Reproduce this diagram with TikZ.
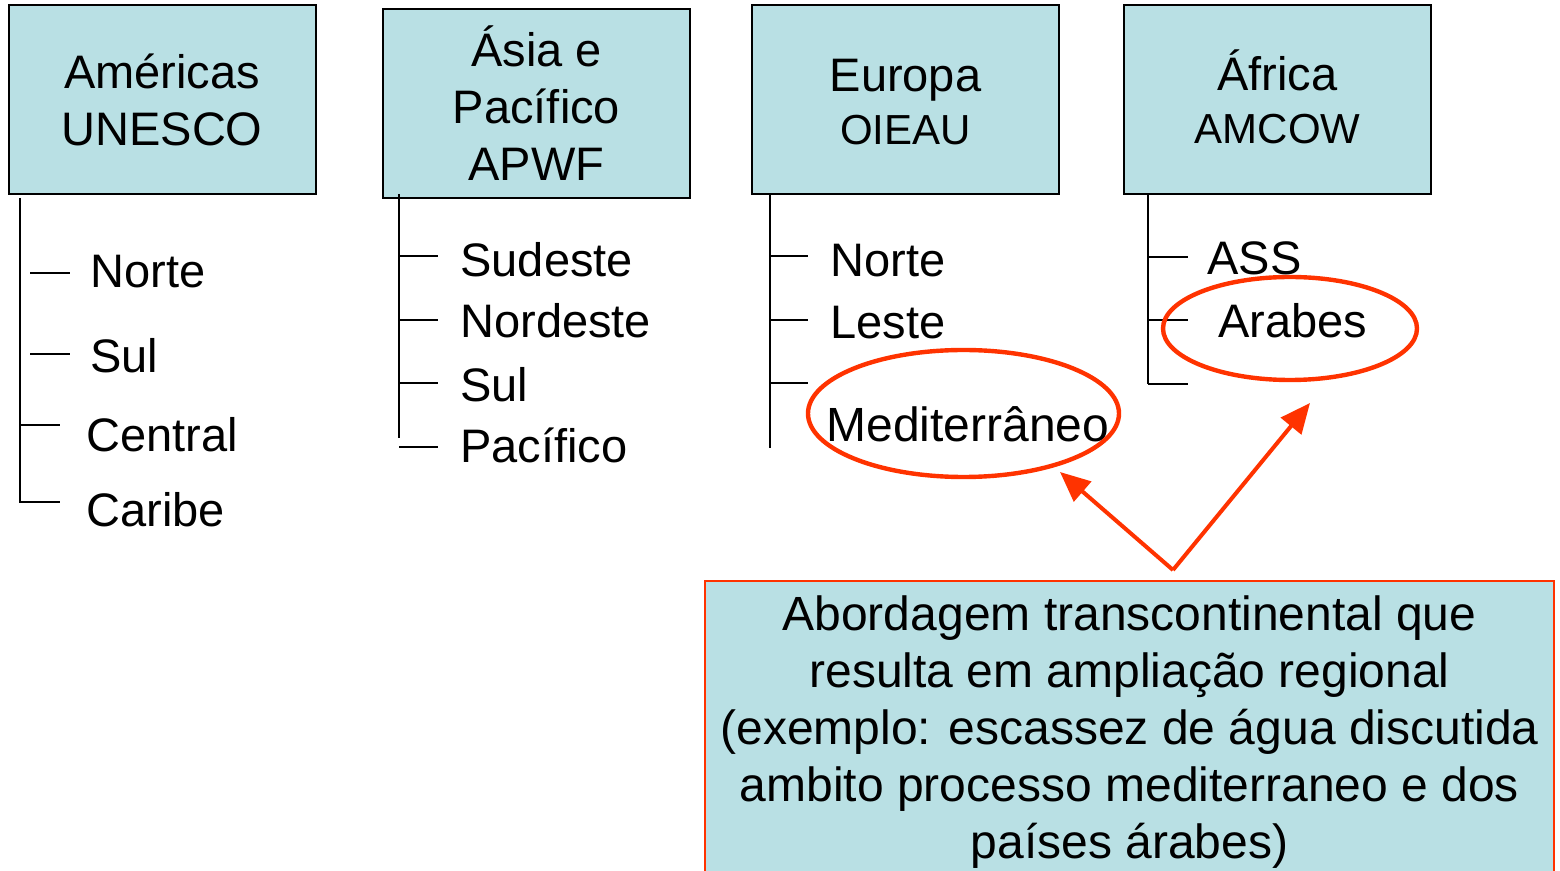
\documentclass[tikz,border=0pt]{standalone}
\usepackage{fontspec}
\setmainfont{Liberation Sans}
\usetikzlibrary{arrows.meta,shapes.geometric}
\definecolor{boxcyan}{RGB}{185,224,228}
\definecolor{markred}{RGB}{255,51,0}
\tikzset{
  region/.style={draw=black,line width=1pt,fill=boxcyan,minimum width=153.5pt,
    minimum height=94.5pt,align=center,inner sep=0pt,font=\fontsize{23.5}{28.5}\selectfont},
  sub/.style={anchor=base west,inner sep=0pt,font=\fontsize{23.5}{28.5}\selectfont},
  tick/.style={line width=0.75pt},
  ring/.style={draw=markred,line width=2.2pt,ellipse,inner sep=0pt},
  pointer/.style={draw=markred,line width=2pt,-{Triangle[length=15pt,width=13pt]}}
}
\begin{document}
\begin{tikzpicture}[x=0.5pt,y=-0.5pt]
	\useasboundingbox (0,0) rectangle (1560,871);
	% regional boxes
	\node[region] (amer) at (162,99.5) {Américas\\UNESCO};
	\node[region] (asia) at (536.5,103.5) {Ásia e\\Pacífico\\APWF};
	\draw[line width=1pt,fill=boxcyan] (752,5) rectangle (1059,194);
	\node[region,draw=none,fill=none] (euro) at (905.5,102.5) {Europa\\[-2pt]\fontsize{21}{27}\selectfont OIEAU};
	\draw[line width=1pt,fill=boxcyan] (1124,5) rectangle (1431,194);
	\node[region,draw=none,fill=none] (afri) at (1277.5,96.5) {África\\[-2pt]\fontsize{21}{27}\selectfont AMCOW};
	% Americas
	\draw[tick](20,198)--(20,503);
	\draw[tick](30,273)--(70,273);
	\draw[tick](30,354)--(70,354);
	\draw[tick](20,425)--(60,425);
	\draw[tick](20,502)--(60,502);
	\node[sub] (amnorte) at (90,288) {Norte};
	\node[sub] (amsul) at (90,373) {Sul};
	\node[sub] (amcentral) at (86,452) {Central};
	\node[sub] (amcaribe) at (86,527) {Caribe};
	% Asia
	\draw[tick](399,194)--(399,438);
	\foreach \y in {256,320,383,447}
		\draw[tick](399,\y)--(438,\y);
	\node[sub] (assudeste) at (460,277) {Sudeste};
	\node[sub] (asnordeste) at (460,338) {Nordeste};
	\node[sub] (assul) at (460,402) {Sul};
	\node[sub] (aspacifico) at (460,463) {Pacífico};
	% Europa
	\draw[tick](770,194)--(770,448);
	\foreach \y in {256,320,383}
		\draw[tick](770,\y)--(808,\y);
	\node[sub] (eunorte) at (830,277) {Norte};
	\node[sub] (euleste) at (830,339) {Leste};
	\node[sub,font=\fontsize{24}{28.5}\selectfont] (eumed) at (826,442) {Mediterrâneo};
	% Africa
	\draw[tick](1148,194)--(1148,384);
	\foreach \y in {257,320,384}
		\draw[tick](1148,\y)--(1188,\y);
	\node[sub] (afass) at (1207,275) {ASS};
	\node[sub] (afarabes) at (1218,338) {Arabes};
	% highlights
	\node[ring,minimum width=155.5pt,minimum height=63.5pt] (medring) at (963.5,413.5) {};
	\node[ring,minimum width=127pt,minimum height=51.5pt] (arring) at (1290,328.5) {};
	\node[draw=markred,line width=1pt,fill=boxcyan,anchor=north,minimum width=424.5pt,
		inner ysep=7.5pt,align=center,font=\fontsize{24}{28.5}\selectfont] (note) at (1129.5,580)
		{Abordagem transcontinental que\\resulta em ampliação regional\\(exemplo: escassez de água discutida\\ambito processo mediterraneo e dos\\países árabes)};
	\coordinate (fork) at (1173,570);
	\coordinate (medtip) at (1060,472);
	\coordinate (artip) at (1310,403);
	\draw[pointer](fork)--(medtip);
	\draw[pointer](fork)--(artip);
\end{tikzpicture}
\end{document}
